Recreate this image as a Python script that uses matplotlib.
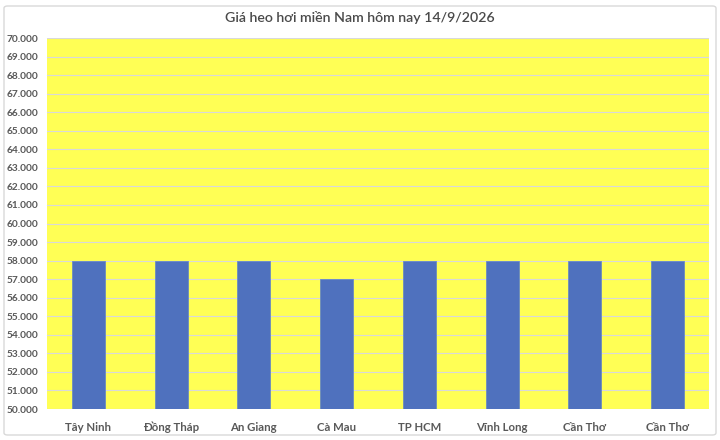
import matplotlib
matplotlib.use("Agg")
import matplotlib.pyplot as plt
from matplotlib.patches import FancyBboxPatch
import numpy as np

categories = ["Tây Ninh", "Đồng Tháp", "An Giang", "Cà Mau", "TP HCM", "Vĩnh Long", "Cần Thơ", "Cần Thơ"]
prices = [58000, 58000, 58000, 57000, 58000, 58000, 58000, 58000]
yticks = list(range(50000, 70001, 1000))
title = "Giá heo hơi miền Nam hôm nay 14/9/2026"

plt.rcParams['font.family'] = ['Lato', 'DejaVu Sans']

fig = plt.figure(figsize=(7.2, 4.4), dpi=100)
fig.patch.set_facecolor('white')
border = FancyBboxPatch((4/720, 5/440), 712/720, 429/440, boxstyle="round,pad=0,rounding_size=0.005",
                        transform=fig.transFigure, fill=False, edgecolor='#D9D9D9', linewidth=1.0)
fig.patches.append(border)

ax = fig.add_axes([47/720, 31/440, 662/720, 371/440])
ax.set_facecolor('#FFFF55')
x = np.arange(len(categories))
ax.bar(x, prices, width=0.4, color='#4F71BE', edgecolor='#6083C8', linewidth=0.5, zorder=3)
ax.set_xlim(-0.5, len(categories) - 0.5)
ax.set_ylim(50000, 70000)
ax.set_yticks(yticks)
ax.set_yticklabels([f"{v:,}".replace(",", ".") for v in yticks])
ax.set_xticks(x)
ax.set_xticklabels(categories)
ax.grid(axis='y', color='#D9D9D9', linewidth=0.8, zorder=0)
for s in ax.spines.values():
    s.set_visible(False)
ax.tick_params(axis='both', length=0, colors='#595959')
ax.tick_params(axis='y', pad=6)
ax.tick_params(axis='x', pad=9)
for lbl in ax.get_yticklabels():
    lbl.set_fontsize(7.3)
    lbl.set_fontweight('bold')
for lbl in ax.get_xticklabels():
    lbl.set_fontsize(8.2)
    lbl.set_fontweight('bold')

fig.text(0.5, 1 - 17/440, title, ha='center', va='center', fontsize=10.2, color='#4A4A4A',
         fontweight='semibold')

fig.savefig("out.png", dpi=100)
